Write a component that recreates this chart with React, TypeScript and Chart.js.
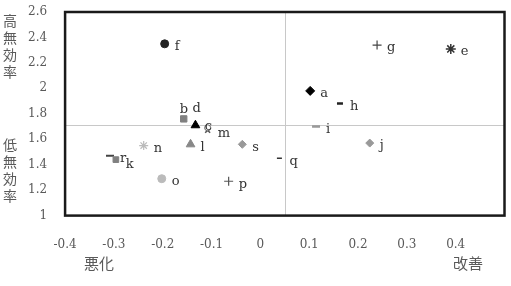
import React, { useEffect, useRef } from 'react';
import { Chart, registerables } from 'chart.js';
Chart.register(...registerables);

// ---- data ----
const pointNames = ['a', 'b', 'c', 'd', 'e', 'f', 'g', 'h', 'i', 'j', 'k', 'l', 'm', 'n', 'o', 'p', 'q', 'r', 's'];
const xValues = [0.102, -0.157, -0.108, -0.133, 0.39, -0.196, 0.239, 0.163, 0.114, 0.224, -0.296, -0.143, -0.108, -0.239, -0.202, -0.065, 0.039, -0.308, -0.037];
const yValues = [1.98, 1.76, 1.69, 1.71, 2.31, 2.35, 2.34, 1.88, 1.7, 1.57, 1.44, 1.56, 1.67, 1.55, 1.29, 1.27, 1.45, 1.47, 1.56];
const xMin = -0.4;
const xMax = 0.5;
const xStep = 0.1;
const yMin = 1;
const yMax = 2.6;
const yStep = 0.2;
const crossX = 0.05;
const crossY = 1.71;
const topSideLabel = '高無効率';
const bottomSideLabel = '低無効率';
const leftBottomLabel = '悪化';
const rightBottomLabel = '改善';

// ---- styles ----
const markerStyles: Record<string, any> = {
  a: { s: 'rectRot', c: '#000', r: 4.5 },
  b: { s: 'rect', c: '#808080', r: 4.5 },
  c: { s: 'circle', c: '#666', r: 3, fill: '#fff', bw: 1 },
  d: { s: 'triangle', c: '#000', r: 5 },
  e: { s: 'star', c: '#333', r: 5, bw: 1.5 },
  f: { s: 'circle', c: '#222', r: 4 },
  g: { s: 'cross', c: '#444', r: 4.5, bw: 1.2 },
  h: { s: 'line', c: '#222', r: 3, bw: 2.5 },
  i: { s: 'line', c: '#999', r: 4, bw: 2.5 },
  j: { s: 'rectRot', c: '#999', r: 4 },
  k: { s: 'rect', c: '#808080', r: 4 },
  l: { s: 'triangle', c: '#888', r: 5 },
  m: { s: 'crossRot', c: '#555', r: 3.5, bw: 1.5 },
  n: { s: 'star', c: '#bbb', r: 4.5, bw: 1.2 },
  o: { s: 'circle', c: '#bbb', r: 4 },
  p: { s: 'cross', c: '#555', r: 4.5, bw: 1.2 },
  q: { s: 'line', c: '#333', r: 2.5, bw: 1.5 },
  r: { s: 'line', c: '#444', r: 4, bw: 2 },
  s: { s: 'rectRot', c: '#999', r: 4 },
};
const labelNudge: Record<string, [number, number]> = {
  b: [-4, -9],
  d: [-3, -17],
  c: [-3, -1],
  k: [10, 5],
};

const fmt = (v: number) => String(Math.round(v * 10) / 10);

const framePlugin = {
  id: 'frameAndText',
  beforeDatasetsDraw(chart: any) {
    const { ctx, chartArea: a, scales } = chart;
    ctx.save();
    ctx.strokeStyle = '#c8c8c8';
    ctx.lineWidth = 1;
    const cx = Math.round(scales.x.getPixelForValue(crossX)) + 0.5;
    const cy = Math.round(scales.y.getPixelForValue(crossY)) + 0.5;
    ctx.beginPath();
    ctx.moveTo(cx, a.top);
    ctx.lineTo(cx, a.bottom);
    ctx.moveTo(a.left, cy);
    ctx.lineTo(a.right, cy);
    ctx.stroke();
    ctx.restore();
  },
  afterDatasetsDraw(chart: any) {
    const { ctx, chartArea: a } = chart;
    ctx.save();
    ctx.font = '13px "DejaVu Serif"';
    ctx.fillStyle = '#333';
    ctx.textBaseline = 'middle';
    ctx.textAlign = 'left';
    chart.data.datasets.forEach((ds: any, i: number) => {
      const el = chart.getDatasetMeta(i).data[0];
      if (!el) return;
      const name = ds.label;
      const [dx, dy] = labelNudge[name] || [10, 3];
      ctx.fillText(name, el.x + dx, el.y + dy);
    });
    ctx.strokeStyle = '#1a1a1a';
    ctx.lineWidth = 2.5;
    ctx.strokeRect(a.left, a.top, a.right - a.left, a.bottom - a.top);
    ctx.fillStyle = '#595959';
    ctx.font = '14px "Noto Sans CJK JP"';
    ctx.textAlign = 'center';
    [...topSideLabel].forEach((ch, k) => ctx.fillText(ch, 10, 21 + k * 17));
    [...bottomSideLabel].forEach((ch, k) => ctx.fillText(ch, 10, 145 + k * 17));
    ctx.font = '15px "Noto Sans CJK JP"';
    ctx.fillText(leftBottomLabel, 99, 263);
    ctx.fillText(rightBottomLabel, 468, 263);
    ctx.restore();
  },
};

export default function App() {
  const ref = useRef<HTMLCanvasElement>(null);
  useEffect(() => {
    document.body.style.margin = '0';
    const datasets = pointNames.map((name, i) => {
      const st = markerStyles[name];
      return {
        label: name,
        data: [{ x: xValues[i], y: yValues[i] }],
        pointStyle: st.s,
        pointRadius: st.r,
        backgroundColor: st.fill || st.c,
        borderColor: st.c,
        borderWidth: st.bw ?? 1,
      };
    });
    const chart = new Chart(ref.current!, {
      type: 'scatter',
      data: { datasets },
      options: {
        animation: false,
        responsive: false,
        maintainAspectRatio: false,
        layout: { padding: { left: 10, top: 12, right: 4, bottom: 12 } },
        plugins: { legend: { display: false }, tooltip: { enabled: false } },
        scales: {
          x: {
            type: 'linear',
            min: xMin,
            max: xMax,
            grid: { display: false, drawTicks: false },
            border: { display: false },
            afterFit: (s: any) => { s.paddingLeft = 0; s.paddingRight = 0; },
            ticks: {
              stepSize: xStep,
              padding: 22,
              color: '#595959',
              font: { family: '"DejaVu Serif"', size: 12 },
              callback: (v: any) => (Math.abs(v - xMax) < 1e-9 ? '' : fmt(v)),
            },
          },
          y: {
            type: 'linear',
            min: yMin,
            max: yMax,
            grid: { display: false, drawTicks: false },
            border: { display: false },
            afterFit: (s: any) => { s.paddingTop = 0; s.paddingBottom = 0; },
            ticks: {
              stepSize: yStep,
              padding: 18,
              color: '#595959',
              font: { family: '"DejaVu Serif"', size: 12 },
              callback: (v: any) => fmt(v),
            },
          },
        },
      },
      plugins: [framePlugin],
    } as any);
    return () => chart.destroy();
  }, []);
  return <canvas ref={ref} width={511} height={286} style={{ display: 'block', background: '#fff' }} />;
}
